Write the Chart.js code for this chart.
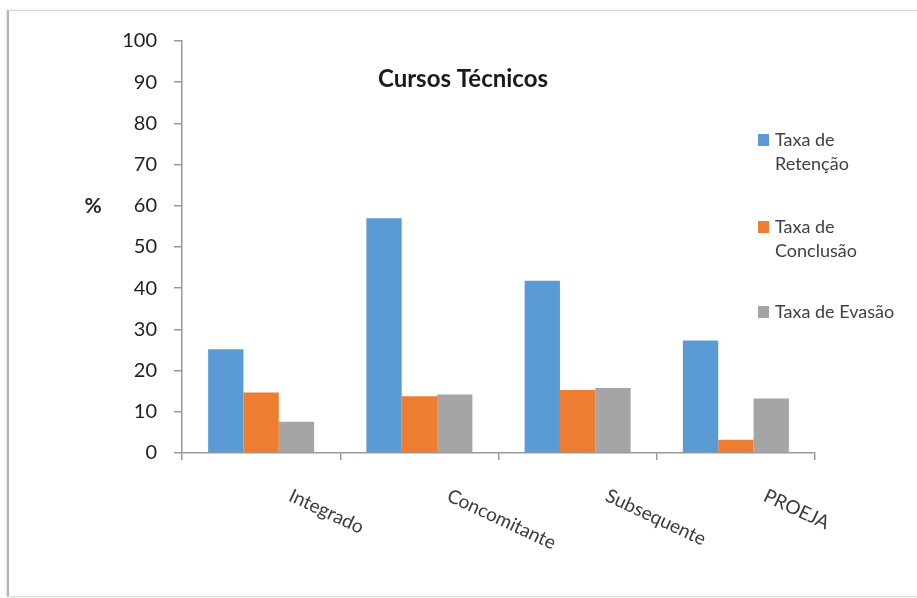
<!DOCTYPE html>
<html>
<head>
<meta charset="utf-8">
<script src="https://cdn.jsdelivr.net/npm/chart.js@4.4.1/dist/chart.umd.min.js"></script>
<style>
  html, body { margin: 0; padding: 0; background: #ffffff; }
  #wrap { position: relative; width: 917px; height: 598px; overflow: hidden; background: #fff; }
  #frame { position: absolute; left: 7px; top: 10px; width: 940px; height: 585px;
           border-left: 2px solid #b4b4b4; border-top: 1px solid #d6d6d6; border-bottom: 1px solid #dcdcdc;
           box-shadow: -1px 0 2px rgba(0,0,0,0.12); }
  canvas { position: absolute; left: 0; top: 0; }
</style>
</head>
<body>
<div id="wrap">
  <div id="frame"></div>
  <canvas id="c" width="917" height="598"></canvas>
</div>
<script>
const categories = ["Integrado", "Concomitante", "Subsequente", "PROEJA"];
const seriesNames = ["Taxa de Retenção", "Taxa de Conclusão", "Taxa de Evasão"];
const legendLines = [["Taxa de", "Retenção"], ["Taxa de", "Conclusão"], ["Taxa de Evasão"]];
const retencao = [25.2, 57.0, 41.8, 27.3];
const conclusao = [14.7, 13.8, 15.3, 3.2];
const evasao = [7.6, 14.2, 15.8, 13.2];
const colors = ["#5B9BD5", "#ED7D31", "#A5A5A5"];
const yTicks = [0, 10, 20, 30, 40, 50, 60, 70, 80, 90, 100];
const chartTitle = "Cursos Técnicos";
const yTitle = "%";

const FONT = "Lato, 'Open Sans', sans-serif";

const decorPlugin = {
  id: 'decor',
  afterDraw(chart) {
    const ctx = chart.ctx;
    const xs = chart.scales.x, ys = chart.scales.y;
    ctx.save();
    // Title
    ctx.fillStyle = '#1a1a1a';
    ctx.font = "bold 24px " + FONT;
    ctx.textAlign = 'center';
    ctx.textBaseline = 'middle';
    ctx.fillText(chartTitle, 463, 79);
    // Y title
    ctx.font = "bold 21px " + FONT;
    ctx.fillStyle = '#262626';
    ctx.fillText(yTitle, 93, ys.getPixelForValue(60));
    // X labels rotated clockwise
    ctx.font = "19px " + FONT;
    ctx.fillStyle = '#3a3a3a';
    ctx.textAlign = 'left';
    ctx.textBaseline = 'top';
    categories.forEach((c, i) => {
      const x = xs.getPixelForTick(i);
      ctx.save();
      ctx.translate(x + 33, 486);
      ctx.rotate(25 * Math.PI / 180);
      ctx.fillText(c, 0, 0);
      ctx.restore();
    });
    // Legend
    const itemY = [140, 227, 312];
    ctx.font = "18px " + FONT;
    ctx.textBaseline = 'middle';
    chart.data.datasets.forEach((ds, i) => {
      ctx.fillStyle = ds.backgroundColor;
      ctx.fillRect(758, itemY[i] - 6, 11, 12);
      ctx.fillStyle = '#404040';
      legendLines[i].forEach((ln, k) => {
        ctx.fillText(ln, 775, itemY[i] + k * 24);
      });
    });
    ctx.restore();
  }
};

new Chart(document.getElementById('c'), {
  type: 'bar',
  data: {
    labels: categories,
    datasets: [
      { label: seriesNames[0], data: retencao, backgroundColor: colors[0] },
      { label: seriesNames[1], data: conclusao, backgroundColor: colors[1] },
      { label: seriesNames[2], data: evasao, backgroundColor: colors[2] }
    ]
  },
  options: {
    responsive: false,
    animation: false,
    devicePixelRatio: 1,
    categoryPercentage: 0.67,
    barPercentage: 1.0,
    layout: { padding: { top: 41, right: 102, left: 0, bottom: 0 } },
    plugins: { legend: { display: false }, title: { display: false }, tooltip: { enabled: false } },
    scales: {
      x: {
        offset: true,
        grid: { offset: true, drawOnChartArea: false, drawTicks: true, tickLength: 7, color: '#9a9a9a', lineWidth: 1.5 },
        border: { display: true, color: '#9a9a9a', width: 1.5 },
        ticks: { display: false },
        afterFit(scale) { scale.height = 145; }
      },
      y: {
        min: 0, max: 100,
        afterBuildTicks(scale) { scale.ticks = yTicks.map(v => ({ value: v })); },
        grid: { drawOnChartArea: false, drawTicks: true, tickLength: 8, color: '#9a9a9a', lineWidth: 1.5 },
        border: { display: true, color: '#9a9a9a', width: 1.5 },
        ticks: { padding: 17, color: '#1e1e1e', font: { family: FONT, size: 20 } },
        afterFit(scale) { scale.width = 182; }
      }
    }
  },
  plugins: [decorPlugin]
});
</script>
</body>
</html>
